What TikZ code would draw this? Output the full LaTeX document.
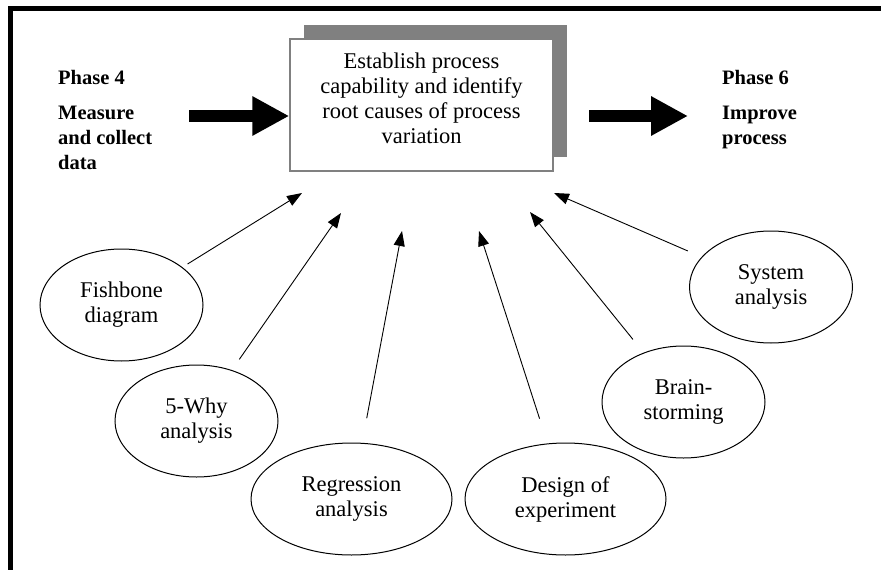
\documentclass[tikz,border=0pt]{standalone}
\usepackage{fontspec}
\setmainfont{Liberation Serif}
\usetikzlibrary{arrows.meta,shapes.geometric,shadows}

\begin{document}
\begin{tikzpicture}[
  x=1pt,
  y=-1pt,
  every node/.style={font=\fontsize{22.5}{25}\selectfont},
  procbox/.style={draw=black!50, line width=1.5pt, fill=white, minimum width=263pt, minimum height=132pt,
    drop shadow={shadow xshift=14pt, shadow yshift=14pt, fill=black!50, opacity=1}},
  phase/.style={font=\fontsize{20.5}{25}\selectfont\bfseries, align=left, inner sep=0pt, anchor=north west},
  tool/.style={ellipse, draw, line width=1pt, minimum width=163pt, minimum height=112pt, inner sep=0pt, align=center},
  widetool/.style={tool, minimum width=201pt},
  bigarrow/.style={line width=12pt, -{Triangle[length=37pt,width=37pt]}},
  feeds/.style={line width=0.9pt, -{Triangle[length=15pt,width=11pt]}},
]
\useasboundingbox (0,0) rectangle (881,570);

% Frame (top and left edges only).
\draw[line width=5pt] (10.5,570) -- (10.5,8.5) -- (881,8.5);

% Central step.
\node[procbox] (proc) at (421.5,105) {};
\node[align=center, inner sep=0pt] (proclbl) at (421.5,98.5) {Establish process\\capability and identify\\root causes of process\\variation};

% Neighbouring phases.
\node[phase] (prev) at (58,70) {Phase 4\\[10pt]Measure\\and collect\\data};
\node[phase] (next) at (722,70) {Phase 6\\[10pt]Improve\\process};

\coordinate (inarr) at (189,116);
\coordinate (outa) at (589,116);
\coordinate (outb) at (688,116);
\draw[bigarrow] (inarr) -- (inarr -| proc.west);
\draw[bigarrow] (outa) -- (outb);

% Tools.
\node[tool] (fish) at (121.5,305) {Fishbone\\diagram};
\node[tool] (why) at (196.5,421) {5-Why\\analysis};
\node[widetool] (regr) at (351.5,499) {Regression\\analysis};
\node[widetool] (doe) at (565.5,499) {Design of\\experiment};
\node[tool] (brain) at (683.5,402) {Brain-\\storming};
\node[tool] (sys) at (771,287) {System\\analysis};

% Arrow tips (free ends).
\coordinate (fishtip) at (302,193);
\coordinate (whytip) at (341,213);
\coordinate (regrtip) at (402,231);
\coordinate (doetip) at (479,231);
\coordinate (braintip) at (530,212);
\coordinate (systip) at (554,193);

\draw[feeds, shorten <=6pt] (fish) -- (fishtip);
\draw[feeds, shorten <=13pt] (why) -- (whytip);
\draw[feeds, shorten <=25pt] (regr) -- (regrtip);
\draw[feeds, shorten <=26pt] (doe) -- (doetip);
\draw[feeds, shorten <=17pt] (brain) -- (braintip);
\draw[feeds, shorten <=15pt] (sys) -- (systip);

\end{tikzpicture}
\end{document}
